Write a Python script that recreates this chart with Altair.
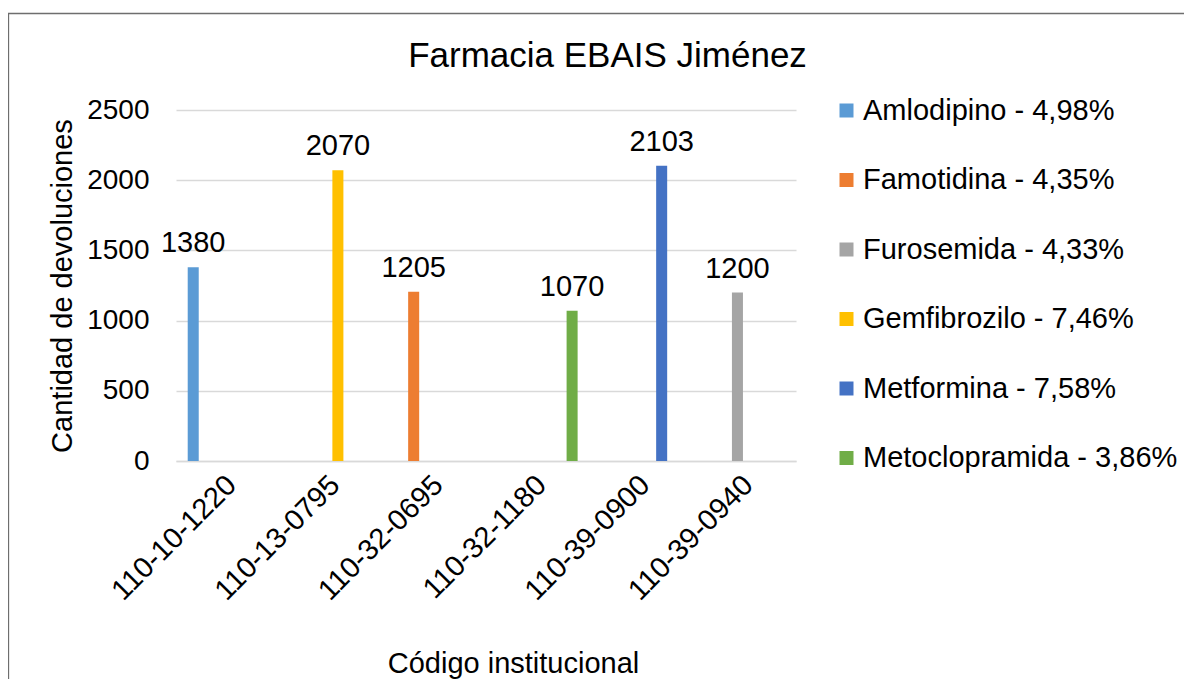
import altair as alt
import pandas as pd

# ---- data ----
codigos = ["110-10-1220", "110-13-0795", "110-32-0695", "110-32-1180", "110-39-0900", "110-39-0940"]
medicamento_por_codigo = [
    "Amlodipino - 4,98%",
    "Gemfibrozilo - 7,46%",
    "Famotidina - 4,35%",
    "Metoclopramida - 3,86%",
    "Metformina - 7,58%",
    "Furosemida - 4,33%",
]
valores = [1380, 2070, 1205, 1070, 2103, 1200]

series = [
    "Amlodipino - 4,98%",
    "Famotidina - 4,35%",
    "Furosemida - 4,33%",
    "Gemfibrozilo - 7,46%",
    "Metformina - 7,58%",
    "Metoclopramida - 3,86%",
]
colores = ["#5B9BD5", "#ED7D31", "#A5A5A5", "#FFC000", "#4472C4", "#70AD47"]
y_ticks = [0, 500, 1000, 1500, 2000, 2500]

titulo = "Farmacia EBAIS Jiménez"
titulo_x = "Código institucional"
titulo_y = "Cantidad de devoluciones"

df = pd.DataFrame({"codigo": codigos, "med": medicamento_por_codigo, "valor": valores})

FONT = "Liberation Sans"
W, H = 620, 351

x_enc = alt.X(
    "codigo:N",
    sort=codigos,
    scale=alt.Scale(paddingInner=0.2, paddingOuter=0.1),
    axis=alt.Axis(
        title=titulo_x,
        labelAngle=-45,
        labelAlign="right",
        labelBaseline="middle",
        labelFontSize=29,
        labelFont=FONT,
        labelColor="#000000",
        labelPadding=19,
        labelOffset=4,
        ticks=False,
        domainColor="#D9D9D9",
        domainWidth=1.3,
        grid=False,
        titleFontSize=29,
        titleFont=FONT,
        titleFontWeight="normal",
        titleColor="#000000",
        titleX=337,
        titleY=211,
        titleAlign="center",
        titleBaseline="alphabetic",
    ),
)
xo_enc = alt.XOffset("med:N", scale=alt.Scale(domain=series, paddingInner=0.2, paddingOuter=0.1))
y_enc = alt.Y(
    "valor:Q",
    scale=alt.Scale(domain=[0, 2500], nice=False),
    axis=alt.Axis(
        title=titulo_y,
        values=y_ticks,
        format="d",
        labelFontSize=28,
        labelFont=FONT,
        labelColor="#000000",
        labelPadding=27,
        ticks=False,
        domain=False,
        gridColor="#D9D9D9",
        gridWidth=1.3,
        titleFontSize=29,
        titleFont=FONT,
        titleFontWeight="normal",
        titleColor="#000000",
        titleX=-105,
        titleY=H / 2,
        titleAngle=-90,
        titleAlign="center",
        titleBaseline="alphabetic",
    ),
)

base = alt.Chart(df).encode(x=x_enc, xOffset=xo_enc, y=y_enc)

bars = base.mark_bar().encode(
    color=alt.Color(
        "med:N",
        scale=alt.Scale(domain=series, range=colores),
        legend=alt.Legend(
            title=None,
            orient="none",
            legendX=656,
            legendY=-14,
            symbolType="square",
            symbolSize=196,
            symbolStrokeWidth=0,
            symbolOpacity=1,
            labelFontSize=29,
            labelFont=FONT,
            labelColor="#000000",
            labelOffset=2,
            rowPadding=39.5,
            padding=0,
            labelLimit=400,
        ),
    )
)

labels = base.mark_text(
    baseline="alphabetic", align="center", dy=-15, fontSize=29, font=FONT, color="#000000"
).encode(text=alt.Text("valor:Q", format="d"))

border = alt.Chart(pd.DataFrame({"a": [0]})).mark_rect(
    fill=None, stroke="#6E6E6E", strokeWidth=1.3
).encode(x=alt.value(-167.5), x2=alt.value(1100), y=alt.value(-96.5), y2=alt.value(700))

title_mark = alt.Chart(pd.DataFrame({"t": [titulo]})).mark_text(
    fontSize=35, font=FONT, color="#000000", align="center", baseline="alphabetic"
).encode(text="t:N", x=alt.value(431.5), y=alt.value(-43.3))

chart = alt.layer(border, bars, labels, title_mark).properties(
    width=W,
    height=H,
    autosize=alt.AutoSizeParams(type="none"),
    padding={"left": 168, "top": 102, "right": 388, "bottom": 218},
).configure_view(stroke=None)

chart.save("out.html", embed_options={"renderer": "svg", "actions": False})
